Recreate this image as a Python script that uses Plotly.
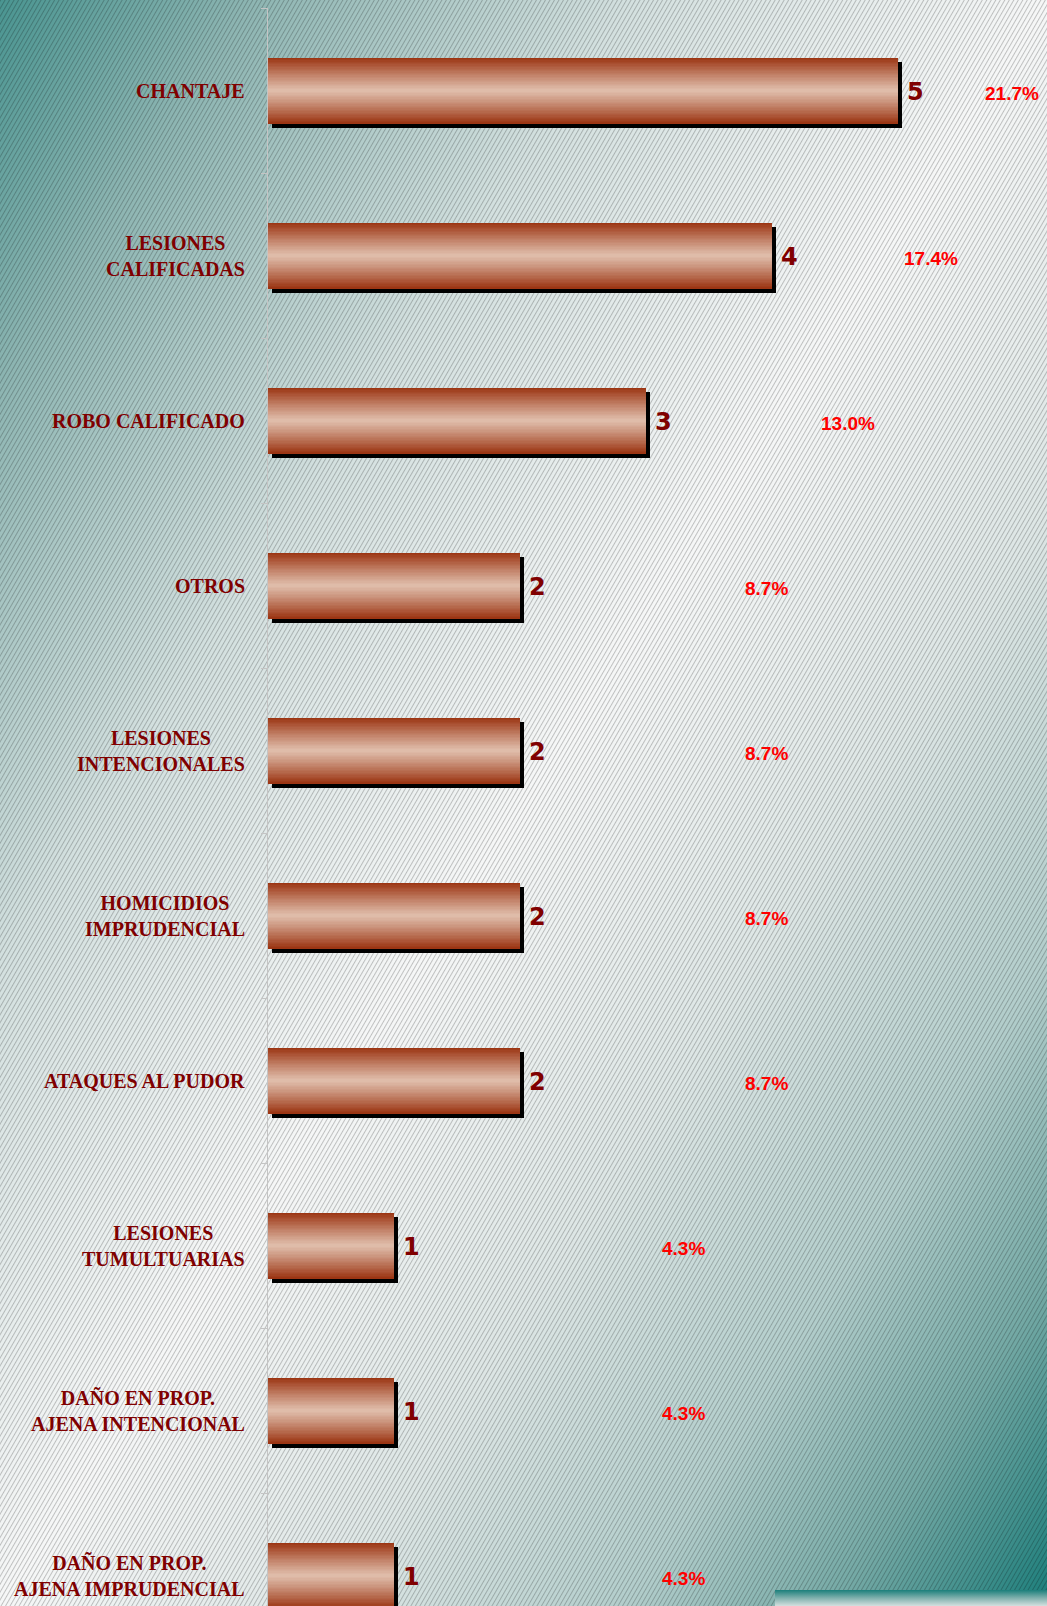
import base64
import plotly.graph_objects as go

# ---------------- data ----------------
categories = [
    "CHANTAJE",
    "LESIONES<br>CALIFICADAS",
    "ROBO CALIFICADO",
    "OTROS",
    "LESIONES<br>INTENCIONALES",
    "HOMICIDIOS<br>IMPRUDENCIAL",
    "ATAQUES AL PUDOR",
    "LESIONES<br>TUMULTUARIAS",
    "DAÑO EN PROP.<br>AJENA INTENCIONAL",
    "DAÑO EN PROP.<br>AJENA IMPRUDENCIAL",
]
values = [5, 4, 3, 2, 2, 2, 2, 1, 1, 1]
percents = [21.7, 17.4, 13.0, 8.7, 8.7, 8.7, 8.7, 4.3, 4.3, 4.3]

# ---------------- layout constants ----------------
W, H = 1047, 1606
ML, MT, MR, MB = 268, 8, 0, 0
PW, PH = W - ML - MR, H - MT - MB
PX_PER_UNIT = 126.0
PX_PER_CAT = 165.0
BAR_W = 0.4
PCT_ZERO_PX = 334.0      # px from plot left where 0 % sits
PCT_PX = 18.9            # px per percent

x_range = [0, PW / PX_PER_UNIT]
y_range = [-0.5 + PH / PX_PER_CAT, -0.5]
x2_range = [-PCT_ZERO_PX / PCT_PX, (PW - PCT_ZERO_PX) / PCT_PX]

MAROON = "#800000"

# ---------------- background (svg) ----------------
stops = [
    (0.00, "#4a9591"), (0.12, "#8db5b2"), (0.30, "#d3e0df"), (0.50, "#f6f7f7"),
    (0.66, "#dde6e5"), (0.80, "#b2cdcb"), (0.90, "#74a9a5"), (1.00, "#1c7e7b"),
]
stop_xml = "".join(f'<stop offset="{o}" stop-color="{c}"/>' for o, c in stops)
svg = f'''<svg xmlns="http://www.w3.org/2000/svg" width="{W}" height="{H}" viewBox="0 0 {W} {H}" preserveAspectRatio="none">
<defs>
<linearGradient id="g" x1="0" y1="0" x2="1" y2="1">{stop_xml}</linearGradient>
<pattern id="h" patternUnits="userSpaceOnUse" width="3.9" height="20" patternTransform="rotate(30)">
<rect x="0" y="0" width="1" height="20" fill="#000" fill-opacity="0.22"/></pattern>
<linearGradient id="s" x1="0" y1="0" x2="0" y2="1">
<stop offset="0" stop-color="#1b7f7b"/><stop offset="0.5" stop-color="#7fb0ad"/><stop offset="1" stop-color="#d4e0df"/>
</linearGradient>
</defs>
<rect x="0" y="0" width="{W}" height="{H}" fill="url(#g)"/>
<rect x="0" y="0" width="{W}" height="{H}" fill="url(#h)"/>
<rect x="775" y="1590" width="{W-775}" height="16" fill="url(#s)"/>
</svg>'''
svg_uri = "data:image/svg+xml;base64," + base64.b64encode(svg.encode("utf-8")).decode("ascii")

fig = go.Figure()

# shadow
SH = 4.0
fig.add_trace(go.Bar(
    y=categories, x=values, orientation="h",
    base=SH / PX_PER_UNIT, width=BAR_W, offset=-BAR_W / 2 + SH / PX_PER_CAT,
    marker=dict(color="#000000", line=dict(width=0)),
    hoverinfo="skip", showlegend=False,
))

# gradient bars: overlaid bands, darker at edges, light in the middle
dark = (156, 54, 20)
light = (225, 192, 174)
N = 24
for k in range(N):
    t = 1 - k / N
    f = t ** 1.1
    col = tuple(round(light[i] + (dark[i] - light[i]) * f) for i in range(3))
    fig.add_trace(go.Bar(
        y=categories, x=values, orientation="h",
        width=BAR_W * (1 - k / N),
        marker=dict(color="rgb(%d,%d,%d)" % col, line=dict(width=0)),
        hoverinfo="skip", showlegend=False,
    ))

# invisible carrier so the percent axis exists
fig.add_trace(go.Scatter(
    x=percents, y=categories, xaxis="x2", mode="markers",
    marker=dict(opacity=0), hoverinfo="skip", showlegend=False,
))

annotations = []
for c, v, p in zip(categories, values, percents):
    annotations.append(dict(
        xref="paper", x=0, xshift=-21, xanchor="right", yref="y", y=c,
        text=c, showarrow=False, align="center",
        font=dict(family="Liberation Serif, Times New Roman", size=20, color=MAROON, weight="bold"),
    ))
    annotations.append(dict(
        xref="x", x=v, xshift=7, xanchor="left", yref="y", y=c, yshift=-1,
        text=str(v), showarrow=False,
        font=dict(family="DejaVu Sans", size=24, color=MAROON, weight="bold"),
    ))
    annotations.append(dict(
        xref="x2", x=p, xanchor="center", yref="y", y=c, yshift=-3,
        text=f"{p:.1f}%", showarrow=False,
        font=dict(family="Liberation Sans, Arial", size=19, color="#ff0000", weight="bold"),
    ))

fig.update_layout(
    width=W, height=H,
    margin=dict(l=ML, r=MR, t=MT, b=MB, pad=0),
    paper_bgcolor="#ffffff", plot_bgcolor="rgba(0,0,0,0)",
    barmode="overlay", bargap=0,
    showlegend=False,
    xaxis=dict(range=x_range, visible=False, fixedrange=True),
    xaxis2=dict(range=x2_range, overlaying="x", visible=False, fixedrange=True),
    yaxis=dict(
        type="category", range=y_range, showline=True, linecolor="#c4c4c4", linewidth=1,
        ticks="outside", tickson="boundaries", ticklen=6, tickcolor="#c4c4c4",
        showticklabels=False, showgrid=False, zeroline=False, fixedrange=True,
    ),
    annotations=annotations,
    images=[dict(
        source=svg_uri, xref="paper", yref="paper",
        x=-ML / PW, y=1 + MT / PH, sizex=W / PW, sizey=H / PH,
        xanchor="left", yanchor="top", sizing="stretch", layer="below",
    )],
)

fig.write_html(
    "out.html",
    config={"displayModeBar": False},
    post_script="document.body.style.margin='0';document.body.style.overflow='hidden';",
)
